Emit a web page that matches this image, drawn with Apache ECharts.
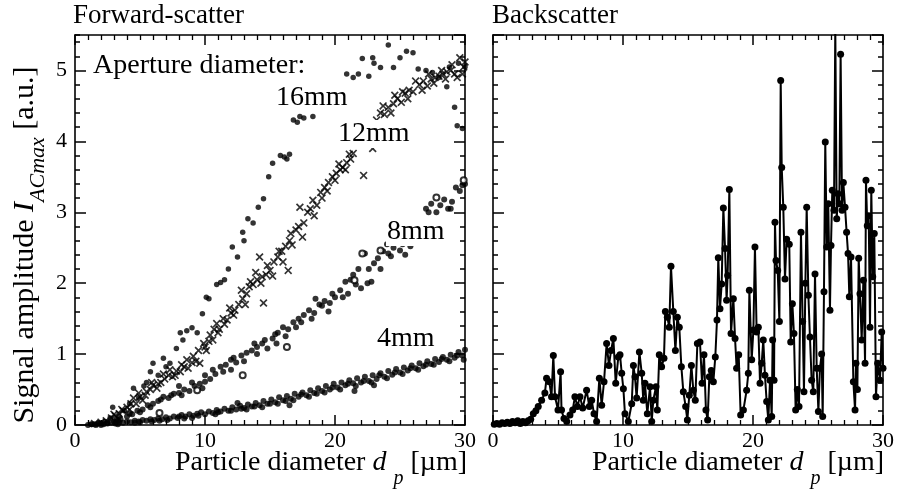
<!DOCTYPE html>
<html><head><meta charset="utf-8">
<script src="https://cdn.jsdelivr.net/npm/echarts@6/dist/echarts.min.js"></script>
<style>html,body{margin:0;padding:0;background:#fff}#c{width:899px;height:491px}</style>
</head><body><div id="c"></div>
<script>
// ---- data ----
const X_MIN = 0, X_MAX = 30, X_STEP = 10;
const Y_MIN = 0, Y_MAX = 5.5, Y_STEP = 1, Y_MINOR = 0.2;

const fwd16mm = [[1.2,0.01],[1.8,0.03],[2.3,0.05],[2.7,0.1],[2.9,0.25],[3.2,0.08],[3.4,0.12],[3.8,0.2],[4.2,0.3],[4.5,0.52],[4.9,0.38],[5.3,0.55],[5.5,0.6],[5.8,0.75],[6.0,0.87],[6.4,0.7],[6.8,0.94],[7.0,0.82],[7.3,0.87],[7.8,1.08],[8.1,1.3],[8.3,1.2],[8.6,1.33],[9.0,1.37],[9.4,1.3],[9.8,1.57],[10.1,1.8],[10.3,1.78],[10.9,1.98],[11.2,2.01],[11.5,2.05],[11.8,2.2],[12.1,2.51],[12.5,2.37],[12.9,2.72],[13.0,2.6],[13.3,2.91],[13.7,2.85],[14.1,3.07],[14.5,3.19],[14.9,3.5],[15.2,3.69],[15.8,3.8],[16.1,3.78],[16.3,3.75],[16.5,3.82],[16.8,4.3],[17.1,4.27],[17.3,4.35],[17.6,4.33],[18.3,4.35],[20.9,4.95],[21.4,4.9],[21.8,4.95],[22.1,5.17],[22.6,4.92],[22.9,5.18],[23.0,5.1],[23.5,5.04],[24.1,5.36],[24.5,5.04],[25.0,5.18],[25.5,5.27],[26.0,5.25],[26.4,5.02],[27.0,5.0],[27.5,4.97],[28.0,4.9],[28.6,4.77],[28.8,5.05],[29.2,4.48],[29.4,4.22],[29.8,4.18],[29.5,5.1],[30.0,5.05]];

const fwd12mm = [[1.5,0.02],[2.0,0.04],[2.4,0.06],[2.8,0.1],[3.0,0.15],[3.1,0.13],[3.4,0.16],[3.6,0.22],[3.7,0.2],[4.0,0.25],[4.2,0.22],[4.3,0.3],[4.5,0.38],[4.7,0.3],[4.9,0.45],[5.0,0.4],[5.2,0.35],[5.4,0.42],[5.5,0.47],[5.8,0.5],[5.9,0.6],[6.0,0.56],[6.3,0.52],[6.4,0.58],[6.6,0.6],[6.8,0.72],[6.9,0.65],[7.2,0.7],[7.3,0.78],[7.5,0.68],[7.7,0.7],[7.8,0.76],[8.1,0.75],[8.2,0.85],[8.4,0.82],[8.6,0.92],[8.7,0.8],[9.0,0.88],[9.1,0.97],[9.3,0.9],[9.5,1.05],[9.6,0.87],[9.9,1.15],[10.0,1.1],[10.1,1.05],[10.3,1.18],[10.4,1.27],[10.6,1.2],[10.7,1.35],[10.9,1.43],[11.0,1.3],[11.1,1.35],[11.4,1.5],[11.5,1.42],[11.7,1.48],[11.9,1.65],[12.0,1.58],[12.2,1.55],[12.3,1.62],[12.6,1.7],[12.8,1.9],[12.9,1.78],[13.1,1.7],[13.2,1.85],[13.4,1.95],[13.5,2.02],[13.7,1.98],[13.9,2.15],[14.0,2.05],[14.2,2.37],[14.3,2.0],[14.4,2.09],[14.5,1.72],[14.7,2.12],[14.8,2.25],[15.0,2.18],[15.2,2.1],[15.3,2.3],[15.6,2.37],[15.7,2.45],[15.9,2.45],[16.0,2.3],[16.2,2.52],[16.4,2.18],[16.5,2.6],[16.6,2.7],[16.7,2.54],[17.0,2.75],[17.2,2.8],[17.3,3.07],[17.5,2.65],[17.6,2.85],[17.9,3.0],[18.1,3.05],[18.3,3.17],[18.4,2.95],[18.6,3.1],[18.9,3.28],[19.0,3.2],[19.2,3.35],[19.4,3.3],[19.5,3.42],[19.8,3.5],[20.0,3.45],[20.1,3.55],[20.3,3.68],[20.4,3.6],[20.6,3.63],[20.8,3.6],[20.9,3.7],[21.1,3.82],[21.2,3.75],[21.4,3.83],[22.2,3.52],[22.9,3.9],[23.2,4.3],[23.3,4.2],[23.5,4.4],[23.7,4.5],[23.8,4.38],[24.1,4.48],[24.3,4.4],[24.5,4.53],[24.6,4.65],[24.8,4.6],[25.1,4.55],[25.2,4.7],[25.4,4.68],[25.6,4.6],[25.7,4.72],[26.0,4.7],[26.2,4.85],[26.5,4.8],[26.7,4.72],[26.8,4.85],[27.1,4.78],[27.2,4.95],[27.4,4.88],[27.6,4.82],[27.7,4.9],[28.0,4.92],[28.2,5.0],[28.3,4.95],[28.5,4.88],[28.6,4.98],[28.9,5.0],[29.0,5.08],[29.2,4.95],[29.4,4.9],[29.6,5.18],[29.8,4.95],[29.9,5.05],[30.0,5.12]];

const fwd8mm = [[1.5,0.01],[2.0,0.02],[2.5,0.03],[3.0,0.05],[3.3,0.06],[3.5,0.08],[4.0,0.12],[4.2,0.16],[4.4,0.15],[4.8,0.2],[5.0,0.18],[5.2,0.22],[5.6,0.28],[5.8,0.25],[6.0,0.3],[6.4,0.34],[6.6,0.36],[6.8,0.4],[7.2,0.38],[7.4,0.42],[7.6,0.44],[8.0,0.45],[8.0,0.55],[8.2,0.42],[8.4,0.5],[8.8,0.48],[9.0,0.6],[9.2,0.55],[9.6,0.58],[9.8,0.52],[10.0,0.61],[10.0,0.7],[10.4,0.65],[10.6,0.78],[10.8,0.72],[11.2,0.82],[11.4,0.75],[11.6,0.85],[12.0,0.92],[12.0,0.78],[12.2,0.95],[12.4,0.88],[12.8,0.98],[13.0,0.9],[13.2,1.02],[13.6,1.05],[13.8,1.15],[14.0,1.1],[14.0,1.0],[14.4,1.15],[14.6,1.2],[14.8,1.08],[15.2,1.22],[15.4,1.28],[15.5,1.15],[15.6,1.3],[16.0,1.38],[16.2,1.25],[16.4,1.35],[16.8,1.45],[17.0,1.38],[17.2,1.5],[17.4,1.45],[17.6,1.55],[18.0,1.62],[18.2,1.5],[18.4,1.58],[18.5,1.78],[18.8,1.7],[19.0,1.68],[19.2,1.75],[19.5,1.6],[19.6,1.72],[19.8,1.85],[20.0,1.8],[20.4,1.9],[20.6,1.8],[20.8,2.02],[21.0,1.85],[21.2,2.05],[21.4,2.12],[21.6,1.98],[21.8,2.2],[22.0,1.93],[22.3,2.42],[22.5,2.0],[22.6,2.2],[22.8,2.02],[23.0,2.28],[23.3,2.35],[23.5,2.2],[23.7,2.45],[24.0,2.55],[24.1,2.42],[24.3,2.38],[24.5,2.5],[25.0,2.46],[25.2,2.55],[25.4,2.4],[25.8,2.52],[27.0,3.05],[27.2,3.0],[27.4,3.12],[27.8,3.0],[28.1,3.1],[28.4,3.18],[28.7,3.05],[28.9,3.05],[29.0,3.15],[29.3,3.35],[29.6,3.3],[29.8,3.38],[30.0,3.4]];

const fwd8mmOpen = [[6.5,0.17],[9.4,0.49],[12.9,0.7],[16.3,1.1],[21.5,2.04],[22.1,2.42],[23.5,2.46],[27.8,3.21],[29.9,3.45]];

const fwd4mm = [[1.0,0.00],[1.3,0.01],[1.6,0.00],[1.9,0.02],[2.0,0.0],[2.2,0.01],[2.5,0.02],[2.8,0.03],[3.1,0.02],[3.3,0.01],[3.4,0.04],[3.7,0.03],[4.0,0.05],[4.3,0.04],[4.6,0.06],[4.6,0.03],[4.9,0.05],[5.0,0.04],[5.2,0.07],[5.5,0.06],[5.8,0.08],[5.9,0.05],[6.1,0.07],[6.4,0.09],[6.5,0.06],[6.7,0.08],[7.0,0.11],[7.1,0.07],[7.3,0.09],[7.6,0.12],[7.9,0.10],[8.0,0.12],[8.2,0.14],[8.4,0.09],[8.5,0.12],[8.8,0.15],[9.0,0.1],[9.1,0.13],[9.4,0.16],[9.5,0.13],[9.7,0.18],[10.0,0.15],[10.3,0.19],[10.6,0.17],[10.8,0.15],[10.9,0.21],[11.0,0.18],[11.2,0.19],[11.5,0.23],[11.8,0.20],[12.0,0.2],[12.1,0.25],[12.4,0.22],[12.5,0.31],[12.7,0.27],[12.8,0.23],[13.0,0.24],[13.2,0.22],[13.3,0.29],[13.6,0.26],[13.8,0.26],[13.9,0.31],[14.2,0.28],[14.4,0.25],[14.5,0.34],[14.8,0.30],[15.0,0.3],[15.1,0.36],[15.4,0.32],[15.6,0.3],[15.7,0.39],[16.0,0.35],[16.2,0.34],[16.3,0.41],[16.5,0.28],[16.6,0.37],[16.8,0.35],[16.9,0.44],[17.2,0.40],[17.4,0.43],[17.5,0.46],[17.8,0.42],[18.0,0.4],[18.1,0.49],[18.4,0.45],[18.6,0.44],[18.7,0.52],[19.0,0.48],[19.2,0.46],[19.3,0.55],[19.6,0.50],[19.8,0.53],[19.9,0.58],[20.2,0.53],[20.4,0.5],[20.5,0.60],[20.8,0.56],[21.0,0.58],[21.1,0.63],[21.4,0.59],[21.5,0.48],[21.6,0.55],[21.7,0.66],[22.0,0.60],[22.2,0.62],[22.3,0.68],[22.6,0.62],[22.8,0.6],[22.9,0.70],[23.0,0.56],[23.2,0.65],[23.4,0.7],[23.5,0.73],[23.8,0.68],[24.0,0.66],[24.1,0.76],[24.4,0.71],[24.6,0.74],[24.7,0.79],[25.0,0.74],[25.2,0.72],[25.3,0.81],[25.6,0.77],[25.8,0.8],[25.9,0.84],[26.2,0.80],[26.4,0.78],[26.5,0.87],[26.8,0.83],[27.0,0.85],[27.1,0.90],[27.4,0.86],[27.6,0.85],[27.7,0.93],[28.0,0.89],[28.2,0.93],[28.3,0.96],[28.6,0.92],[28.8,0.9],[28.9,0.99],[29.2,0.95],[29.4,0.98],[29.5,1.03],[29.8,0.98],[29.9,0.92],[30.0,1.06]];

const backscatter = [[0.1,0.01],[0.3,0.02],[0.5,0.01],[0.7,0.03],[0.9,0.02],[1.1,0.04],[1.3,0.02],[1.5,0.05],[1.7,0.03],[1.9,0.06],[2.1,0.02],[2.3,0.05],[2.5,0.03],[2.7,0.06],[2.9,0.08],
[3.1,0.16],[3.3,0.2],[3.48,0.26],[3.74,0.35],[3.99,0.45],[4.12,0.66],[4.33,0.61],[4.5,0.4],[4.64,0.98],[4.77,0.4],[5.0,0.21],[5.2,0.75],[5.27,0.21],[5.46,0.09],[5.67,0.05],[5.92,0.14],[6.13,0.21],[6.3,0.4],[6.49,0.26],[6.69,0.4],[6.9,0.24],[7.2,0.49],[7.41,0.26],[7.59,0.35],[7.77,0.16],[7.97,0.05],[8.18,0.66],[8.36,0.28],[8.54,0.61],[8.74,1.15],[8.92,0.84],[9.08,1.05],[9.26,1.22],[9.44,0.59],[9.64,0.96],[9.77,0.99],[9.9,0.73],[10.03,0.51],
[10.15,0.16],[10.41,0.05],[10.67,0.3],[10.8,0.84],[10.92,0.68],[11.05,0.38],[11.26,1.03],[11.44,0.73],[11.56,0.35],[11.69,0.59],[11.87,0.16],[12.08,0.54],[12.21,0.05],[12.33,0.35],[12.54,0.54],[12.64,0.21],[12.79,0.99],[12.97,0.82],[13.15,0.94],[13.26,1.6],[13.41,1.52],[13.56,1.38],[13.69,2.24],[13.87,1.6],[14.03,1.05],[14.18,1.52],[14.33,1.38],[14.49,0.82],[14.64,0.47],[14.82,0.26],[14.95,0.07],[15.1,0.42],[15.26,0.84],[15.41,0.49],[15.56,0.35],[15.72,1.15],[15.92,1.17],[16.08,0.59],[16.23,0.99],[16.38,0.21],[16.51,0.07],[16.64,0.68],[16.79,0.77],[16.95,0.61],[17.1,0.96],[17.23,1.48],[17.33,2.36],[17.46,1.64],[17.59,1.99],[17.72,3.06],[17.85,2.49],[17.97,1.76],[18.05,2.11],[18.18,3.32],[18.31,1.29],[18.49,1.78],[18.62,1.22],[18.74,0.8],[18.9,0.99],[19.05,0.14],[19.26,0.21],[19.51,0.49],[19.64,0.73],[19.72,1.9],[19.9,0.92],
[20.03,1.34],[20.15,2.51],[20.28,1.31],[20.41,1.38],[20.54,0.59],[20.67,0.87],[20.79,1.2],[20.92,0.7],[21.05,0.33],[21.18,0.07],[21.31,0.63],[21.44,0.12],[21.51,1.2],[21.62,0.63],[21.69,2.86],[21.77,2.32],[21.9,2.18],[22.03,1.46],[22.13,4.86],[22.21,3.63],[22.33,3.07],[22.46,2.06],[22.59,2.62],[22.79,2.55],[22.9,1.17],[23.03,1.71],[23.15,1.29],[23.28,0.21],[23.41,0.5],[23.54,0.26],[23.69,2.72],[23.82,1.46],[23.92,0.47],[24.03,2.0],[24.13,3.07],[24.26,1.83],[24.38,1.24],[24.51,0.63],[24.64,0.47],[24.77,2.13],[24.9,0.8],[25.03,0.19],[25.15,0.8],[25.28,1.0],[25.36,0.12],[25.46,1.88],[25.56,3.99],[25.67,2.51],[25.79,3.12],[25.92,1.62],[26.0,2.53],[26.1,3.31],[26.23,3.03],[26.33,5.6],[26.44,2.91],[26.54,3.26],[26.64,3.12],[26.74,5.23],[26.85,3.03],[26.95,3.42],[27.08,3.07],[27.2,2.72],[27.31,2.42],[27.41,1.81],[27.54,2.37],[27.72,0.61],[27.85,0.21],[27.92,0.87],[28.03,0.5],[28.13,2.35],[28.23,1.85],[28.36,1.2],[28.49,2.04],[28.62,0.87],[28.69,3.45],[28.79,2.81],[28.9,2.95],[29.0,1.38],[29.1,3.31],[29.21,2.09],[29.33,2.7],[29.46,0.4],[29.59,0.87],[29.77,0.63],[29.9,1.31],[30.0,0.8]];

const panelTitles = ['Forward-scatter', 'Backscatter'];
const seriesLabels = ['Aperture diameter:', '16mm', '12mm', '8mm', '4mm'];

// ---- chart ----
const FONT = 'Liberation Serif';
const chart = echarts.init(document.getElementById('c'), null, {renderer: 'canvas'});

function xAx(grid, pos, showLabel) {
  return {
    type: 'value', gridIndex: grid, position: pos, min: X_MIN, max: X_MAX, interval: X_STEP,
    axisLine: {show: true, onZero: false, lineStyle: {color: '#000', width: 1.6}},
    axisTick: {show: true, inside: true, length: 10, lineStyle: {color: '#000', width: 1.5}},
    minorTick: {show: true, splitNumber: 10, length: 5, lineStyle: {color: '#000', width: 1.3}},
    splitLine: {show: false}, minorSplitLine: {show: false},
    axisLabel: {show: showLabel, margin: 5, fontSize: 22, color: '#000', fontFamily: FONT}
  };
}
function yAx(grid, pos, interval, len, showLabel, showLine) {
  return {
    type: 'value', gridIndex: grid, position: pos, offset: 0, min: Y_MIN, max: Y_MAX, interval: interval,
    axisLine: {show: showLine, onZero: false, lineStyle: {color: '#000', width: 1.6}},
    axisTick: {show: true, inside: true, length: len, lineStyle: {color: '#000', width: 1.5}},
    splitLine: {show: false},
    axisLabel: {show: showLabel, margin: 8, fontSize: 22, color: '#000', fontFamily: FONT, showMaxLabel: false}
  };
}

const crossPath = 'path://M0,1.5L1.5,0L5,3.5L8.5,0L10,1.5L6.5,5L10,8.5L8.5,10L5,6.5L1.5,10L0,8.5L3.5,5Z';
const labelStyle = {fontSize: 28, fontFamily: FONT, fill: '#000'};
const richY = {
  m: {fontSize: 30, fontFamily: FONT, color: '#000'},
  i: {fontSize: 30, fontFamily: FONT, fontStyle: 'italic', color: '#000'},
  s: {fontSize: 22, fontFamily: FONT, fontStyle: 'italic', color: '#000', padding: [26, 0, 0, 0]}
};
const richX = {
  m: {fontSize: 28, fontFamily: FONT, color: '#000'},
  i: {fontSize: 28, fontFamily: FONT, fontStyle: 'italic', color: '#000'},
  s: {fontSize: 20, fontFamily: FONT, fontStyle: 'italic', color: '#000', padding: [32, 0, 0, 7]}
};
const xTitle = '{m|Particle diameter }{i|d}{s|p}{m| [µm]}';

chart.setOption({
  animation: false,
  backgroundColor: '#fff',
  grid: [
    {left: 75, top: 35, width: 390, height: 390},
    {left: 493, top: 35, width: 390, height: 390}
  ],
  xAxis: [xAx(0, 'bottom', true), xAx(0, 'top', false), xAx(1, 'bottom', true), xAx(1, 'top', false)],
  yAxis: [
    yAx(0, 'left', Y_STEP, 11, true, true), yAx(0, 'left', Y_MINOR, 5, false, false),
    yAx(0, 'right', Y_STEP, 11, false, true), yAx(0, 'right', Y_MINOR, 5, false, false),
    yAx(1, 'left', Y_STEP, 11, false, true), yAx(1, 'left', Y_MINOR, 5, false, false),
    yAx(1, 'right', Y_STEP, 11, false, true), yAx(1, 'right', Y_MINOR, 5, false, false)
  ],
  series: [
    {name: '16mm', type: 'scatter', xAxisIndex: 0, yAxisIndex: 0, data: fwd16mm, symbol: 'circle', symbolSize: 5.5, itemStyle: {color: '#000'}},
    {name: '12mm', type: 'scatter', xAxisIndex: 0, yAxisIndex: 0, data: fwd12mm, symbol: crossPath, symbolSize: 8, itemStyle: {color: '#000'}},
    {name: '8mm', type: 'scatter', xAxisIndex: 0, yAxisIndex: 0, data: fwd8mm, symbol: 'circle', symbolSize: 6, itemStyle: {color: '#000'}},
    {name: '8mm open', type: 'scatter', xAxisIndex: 0, yAxisIndex: 0, data: fwd8mmOpen, symbol: 'emptyCircle', symbolSize: 6, itemStyle: {color: '#000', borderWidth: 1.4}},
    {name: '4mm', type: 'scatter', xAxisIndex: 0, yAxisIndex: 0, data: fwd4mm, symbol: 'circle', symbolSize: 6, itemStyle: {color: '#000'}},
    {name: 'Backscatter', type: 'line', xAxisIndex: 2, yAxisIndex: 4, data: backscatter, symbol: 'circle', symbolSize: 7, showAllSymbol: true, clip: true,
      lineStyle: {color: '#000', width: 2}, itemStyle: {color: '#000'}}
  ],
  graphic: [
    {type: 'text', x: 73, y: 16, z: 100, style: Object.assign({text: panelTitles[0], verticalAlign: 'middle'}, labelStyle, {fontSize: 27})},
    {type: 'text', x: 492, y: 16, z: 100, style: Object.assign({text: panelTitles[1], verticalAlign: 'middle'}, labelStyle, {fontSize: 27})},
    {type: 'text', x: 93, y: 66, z: 100, style: Object.assign({text: seriesLabels[0], verticalAlign: 'middle'}, labelStyle)},
    {type: 'text', x: 274, y: 98, z: 100, style: Object.assign({text: seriesLabels[1], verticalAlign: 'middle', backgroundColor: '#fff', padding: [0, 2]}, labelStyle)},
    {type: 'text', x: 336, y: 134, z: 100, style: Object.assign({text: seriesLabels[2], verticalAlign: 'middle', backgroundColor: '#fff', padding: [0, 2]}, labelStyle)},
    {type: 'text', x: 386, y: 232, z: 100, style: Object.assign({text: seriesLabels[3], verticalAlign: 'middle', backgroundColor: '#fff', padding: [0, 1]}, labelStyle)},
    {type: 'text', x: 376, y: 339, z: 100, style: Object.assign({text: seriesLabels[4], verticalAlign: 'middle', backgroundColor: '#fff', padding: [0, 1]}, labelStyle)},
    {type: 'text', x: 25, y: 245, rotation: Math.PI / 2, z: 100,
      style: {text: '{m|Signal amplitude }{i|I}{s|ACmax}{m| [a.u.]}', rich: richY, align: 'center', verticalAlign: 'middle', fontFamily: FONT, fontSize: 30}},
    {type: 'text', x: 467, y: 463, z: 100,
      style: {text: xTitle, rich: richX, align: 'right', verticalAlign: 'middle', fontFamily: FONT, fontSize: 28}},
    {type: 'text', x: 884, y: 463, z: 100,
      style: {text: xTitle, rich: richX, align: 'right', verticalAlign: 'middle', fontFamily: FONT, fontSize: 28}}
  ]
});
</script>
</body></html>
